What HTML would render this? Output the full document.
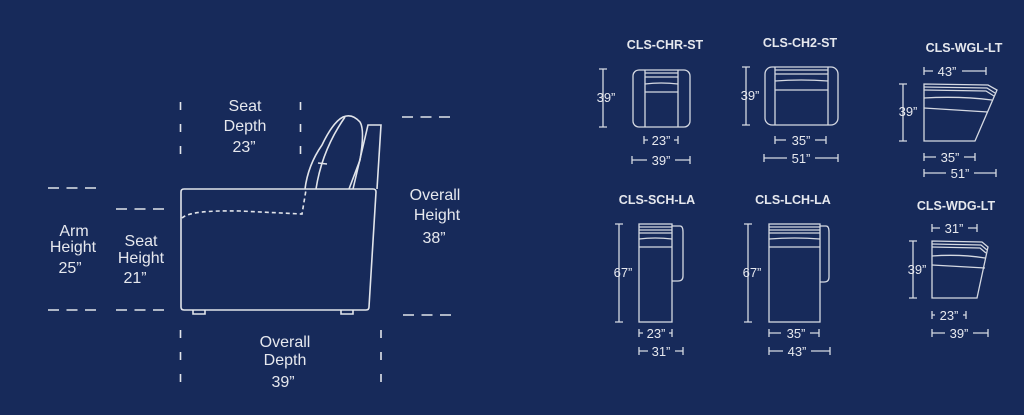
<!DOCTYPE html>
<html><head><meta charset="utf-8"><style>
html,body{margin:0;padding:0;background:#172a5a;}
svg{display:block}
text{font-family:"Liberation Sans",sans-serif;fill:#e6e8ee}
.t{font-size:16px;text-anchor:middle}
.h{font-size:12.5px;font-weight:bold;text-anchor:middle}
.d{font-size:13px;text-anchor:middle}
</style></head><body>
<svg width="1024" height="415" viewBox="0 0 1024 415" xmlns="http://www.w3.org/2000/svg">
<rect width="1024" height="415" fill="#172a5a"/>
<g stroke="#e1e4ea" stroke-width="1.6" fill="none">
 <g stroke-dasharray="8,14">
  <line x1="180.5" y1="102" x2="180.5" y2="154"/>
  <line x1="300.5" y1="102" x2="300.5" y2="154"/>
  <line x1="180.5" y1="330" x2="180.5" y2="382"/>
  <line x1="381" y1="330" x2="381" y2="382"/>
 </g>
 <g stroke-dasharray="11,7.5">
  <line x1="48" y1="188" x2="96" y2="188"/>
  <line x1="116" y1="209" x2="164" y2="209"/>
  <line x1="48" y1="310" x2="96" y2="310"/>
  <line x1="116" y1="310" x2="164" y2="310"/>
  <line x1="402" y1="117" x2="450" y2="117"/>
  <line x1="403" y1="315" x2="451" y2="315"/>
 </g>
 <path d="M184 189 L373 189 Q376 189 376 192 L369 307 Q369 310 366 310 L184 310 Q181 310 181 307 L181 192 Q181 189 184 189 Z"/>
 <path d="M193 310 v4 h12 v-4 M341 310 v4 h12 v-4"/>
 <path d="M182 218 Q190 210 240 211 L302 214 L306 190" stroke-dasharray="4,3"/>
 <path d="M305 189 Q308 165 322 145 Q333 122 343 117 Q352 113 360 122 Q365 130 360 160 L349 189"/>
 <path d="M316 189 Q322 150 345 117"/>
 <path d="M318 163 L327 164"/>
 <path d="M353 189 L368 125 L381 125 L377 189"/>
</g>
<text class="t" x="245" y="111">Seat</text>
<text class="t" x="245" y="131">Depth</text>
<text class="t" x="244" y="152">23”</text>
<text class="t" x="74" y="236">Arm</text>
<text class="t" x="73" y="252">Height</text>
<text class="t" x="70" y="273">25”</text>
<text class="t" x="141" y="246">Seat</text>
<text class="t" x="141" y="263">Height</text>
<text class="t" x="135" y="283">21”</text>
<text class="t" x="435" y="200">Overall</text>
<text class="t" x="437" y="220">Height</text>
<text class="t" x="434" y="243">38”</text>
<text class="t" x="285" y="347">Overall</text>
<text class="t" x="285" y="365">Depth</text>
<text class="t" x="283" y="387">39”</text>

<text class="h" x="665" y="49">CLS-CHR-ST</text>
<text class="h" x="800" y="47">CLS-CH2-ST</text>
<text class="h" x="964" y="52">CLS-WGL-LT</text>
<text class="h" x="657" y="204">CLS-SCH-LA</text>
<text class="h" x="793" y="204">CLS-LCH-LA</text>
<text class="h" x="956" y="210">CLS-WDG-LT</text>
<g stroke="#d5d9e2" stroke-width="1.3" fill="none">
 <rect x="633" y="70" width="57" height="57" rx="6"/>
 <path d="M645 70 V127 M678 70 V127 M645 73 H678 M645 77 H678 M645 84 Q661 82 678 84 M645 92 H678"/>
 <path d="M599 69 H607 M603 69 V127 M599 127 H607"/>
 <path d="M644 136 V144 M644 140 H648 M674 140 H678 M678 136 V144"/>
 <path d="M632 156 V164 M632 160 H647 M675 160 H690 M690 156 V164"/>
 <rect x="765" y="67" width="73" height="58" rx="7"/>
 <path d="M775 67 V125 M828 67 V125 M775 70 H828 M775 74 H828 M775 81 Q801 79 828 81 M775 90 H828"/>
 <path d="M742 67 H750 M746 67 V125 M742 125 H750"/>
 <path d="M775 136 V144 M775 140 H786 M815 140 H826 M826 136 V144"/>
 <path d="M764 154 V162 M764 158 H787 M815 158 H838 M838 154 V162"/>
 <path d="M924 84 L988 85 L997 90 L975 141 L924 141 Z"/>
 <path d="M924 87 L987 88 L995 93 M924 90 L986 91 L994 96 M924 98 Q960 96 992 100 M924 108 L988 112"/>
 <path d="M924 67 V75 M924 71 H933 M962 71 H986 M986 67 V75"/>
 <path d="M899 84 H907 M903 84 V141 M899 141 H907"/>
 <path d="M924 153 V161 M924 157 H936 M964 157 H975 M975 153 V161"/>
 <path d="M924 169 V177 M924 173 H946 M974 173 H996 M996 169 V177"/>
 <rect x="639" y="224" width="33" height="98"/>
 <path d="M639 227 H672 M639 230 H672 M639 233 H672 M639 239 Q655 237 672 239 M639 247 H672"/>
 <path d="M672 226 H680 Q683 226 683 232 V276 Q683 281 678 281 H672"/>
 <path d="M615 224 H623 M619 224 V322 M615 322 H623"/>
 <path d="M639 329 V337 M639 333 H643 M669 333 H672 M672 329 V337"/>
 <path d="M639 347 V355 M639 351 H648 M675 351 H683 M683 347 V355"/>
 <rect x="769" y="224" width="51" height="98"/>
 <path d="M769 227 H820 M769 230 H820 M769 233 H820 M769 239 Q795 237 820 239 M769 247 H820"/>
 <path d="M820 226 H826 Q829 226 829 232 V277 Q829 282 824 282 H820"/>
 <path d="M744 224 H752 M748 224 V322 M744 322 H752"/>
 <path d="M769 329 V337 M769 333 H781 M810 333 H819 M819 329 V337"/>
 <path d="M769 347 V355 M769 351 H783 M811 351 H830 M830 347 V355"/>
 <path d="M932 241 L982 242 L988 247 L977 298 L932 298 Z"/>
 <path d="M932 244 L981 245 L987 250 M932 247 L980 248 L986 253 M932 256 Q960 254 985 258 M932 265 L985 268"/>
 <path d="M932 224 V232 M932 228 H940 M968 228 H977 M977 224 V232"/>
 <path d="M909 241 H917 M913 241 V298 M909 298 H917"/>
 <path d="M932 311 V319 M932 315 H935 M963 315 H966 M966 311 V319"/>
 <path d="M932 329 V337 M932 333 H945 M973 333 H988 M988 329 V337"/>
</g>
<text class="d" x="606" y="102">39”</text>
<text class="d" x="661" y="145">23”</text>
<text class="d" x="661" y="165">39”</text>
<text class="d" x="750" y="100">39”</text>
<text class="d" x="801" y="145">35”</text>
<text class="d" x="801" y="163">51”</text>
<text class="d" x="908" y="116">39”</text>
<text class="d" x="947" y="76">43”</text>
<text class="d" x="950" y="162">35”</text>
<text class="d" x="960" y="178">51”</text>
<text class="d" x="623" y="277">67”</text>
<text class="d" x="656" y="338">23”</text>
<text class="d" x="661" y="356">31”</text>
<text class="d" x="752" y="277">67”</text>
<text class="d" x="796" y="338">35”</text>
<text class="d" x="797" y="356">43”</text>
<text class="d" x="917" y="274">39”</text>
<text class="d" x="954" y="233">31”</text>
<text class="d" x="949" y="320">23”</text>
<text class="d" x="959" y="338">39”</text>
</svg>
</body></html>
